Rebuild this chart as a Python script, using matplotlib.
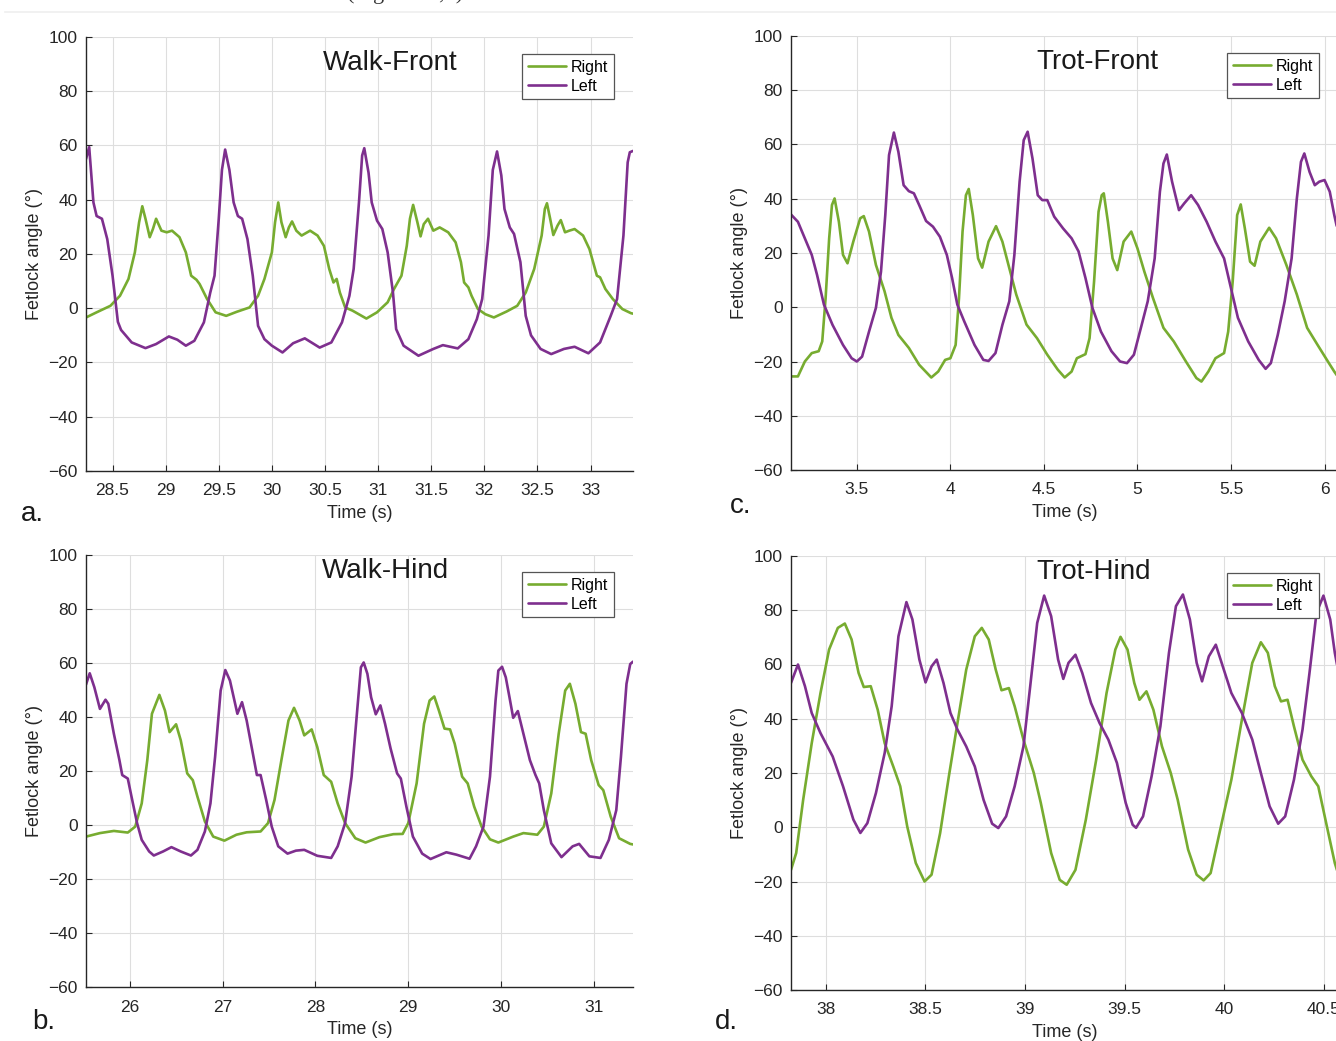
import matplotlib
matplotlib.use("Agg")
import matplotlib.pyplot as plt
from matplotlib.lines import Line2D
from matplotlib.ticker import FormatStrFormatter

plt.rcParams['font.family'] = ['Liberation Sans', 'DejaVu Sans']

GREEN = '#77AC30'
PURPLE = '#7E2F8E'
DARK = '#262626'

# a. Walk-Front  (time s, fetlock angle deg)
walk_front_right = [
    (28.25, -3.4), (28.35, -1.5), (28.48, 0.9), (28.57, 4.6), (28.65, 10.8), (28.71, 20.6), (28.75, 31.7),
    (28.78, 37.6), (28.81, 33), (28.85, 26.2), (28.88, 29.2), (28.91, 33), (28.96, 28.6), (29.01, 28),
    (29.06, 28.6), (29.13, 26.2), (29.19, 20.6), (29.24, 12), (29.29, 10.5), (29.32, 8.9), (29.39, 3.4),
    (29.47, -1.5), (29.57, -2.8), (29.67, -1.3), (29.79, 0.3), (29.87, 4.6), (29.93, 10.8), (30.00, 20.6),
    (30.03, 31.7), (30.06, 39), (30.09, 31.7), (30.13, 26.2), (30.16, 29.8), (30.19, 32), (30.23, 28.6),
    (30.28, 26.8), (30.36, 28.6), (30.43, 26.8), (30.49, 23), (30.54, 14.5), (30.58, 9.5), (30.61, 10.8),
    (30.64, 5.8), (30.69, 0.3), (30.76, -0.9), (30.89, -3.8), (30.99, -1.5), (31.09, 2.2), (31.15, 7.1),
    (31.22, 12), (31.27, 23), (31.30, 33), (31.33, 38.1), (31.37, 31.7), (31.40, 26.5), (31.43, 31),
    (31.47, 33), (31.52, 28.6), (31.58, 29.8), (31.66, 28), (31.73, 24.3), (31.78, 17), (31.81, 9.5),
    (31.85, 7.7), (31.88, 4.6), (31.94, -0.3), (32.01, -2.2), (32.09, -3.4), (32.21, -1.2), (32.31, 0.9),
    (32.39, 5.8), (32.47, 14.5), (32.54, 26.8), (32.57, 36.6), (32.59, 38.7), (32.62, 33), (32.65, 27),
    (32.69, 30.5), (32.72, 32.5), (32.76, 28), (32.80, 28.6), (32.85, 29.2), (32.93, 26.8), (32.99, 21.8),
    (33.06, 12), (33.09, 11.4), (33.14, 7.1), (33.21, 3.4), (33.30, -0.3), (33.38, -1.8), (33.40, -2),
]
walk_front_left = [
    (28.25, 55), (28.28, 59.4), (28.32, 39), (28.35, 34), (28.40, 33), (28.45, 25.5), (28.50, 12),
    (28.55, -5), (28.58, -8), (28.68, -12.6), (28.81, -14.7), (28.91, -13.2), (29.03, -10.4), (29.11, -11.6),
    (29.19, -13.8), (29.27, -12), (29.36, -5.2), (29.42, 5.8), (29.46, 12), (29.50, 33), (29.53, 51),
    (29.56, 58.5), (29.60, 51), (29.64, 39), (29.68, 34), (29.72, 33), (29.77, 25.5), (29.82, 12),
    (29.87, -6.5), (29.93, -11.4), (30.00, -13.8), (30.10, -16.3), (30.20, -12.9), (30.31, -11.1),
    (30.45, -14.5), (30.56, -12.6), (30.66, -5.2), (30.73, 4.6), (30.77, 14.5), (30.82, 39), (30.85, 56.3),
    (30.87, 59), (30.91, 50), (30.94, 39), (30.99, 32.3), (31.04, 29.2), (31.09, 20.6), (31.14, 5.8),
    (31.17, -7.7), (31.24, -13.8), (31.38, -17.5), (31.52, -15), (31.61, -13.6), (31.75, -14.8),
    (31.85, -11.4), (31.93, -4), (31.98, 3.4), (32.04, 26.8), (32.08, 51), (32.12, 57.8), (32.16, 49),
    (32.19, 36.6), (32.24, 29.8), (32.28, 27.4), (32.34, 17), (32.39, -2.8), (32.44, -10), (32.53, -15),
    (32.63, -16.9), (32.75, -15), (32.85, -14.2), (32.98, -16.6), (33.09, -12.6), (33.19, -2.8),
    (33.25, 3.4), (33.31, 26.8), (33.35, 53.8), (33.37, 57.5), (33.40, 58),
]

# b. Walk-Hind
walk_hind_right = [
    (25.53, -4.3), (25.68, -3), (25.83, -2.2), (25.98, -2.8), (26.06, -0.6), (26.13, 8), (26.19, 24),
    (26.24, 41.2), (26.32, 48.2), (26.38, 42.4), (26.43, 34.4), (26.50, 37.3), (26.55, 31.4), (26.62, 19.1),
    (26.68, 16.6), (26.73, 10.5), (26.81, 1.3), (26.90, -4.3), (27.02, -5.8), (27.15, -3.6), (27.26, -2.7),
    (27.41, -2.4), (27.49, 0.7), (27.56, 9.3), (27.64, 25.2), (27.71, 38.7), (27.77, 43.4), (27.83, 38.7),
    (27.88, 33.2), (27.96, 35.4), (28.02, 28.9), (28.09, 18.5), (28.17, 16), (28.24, 8), (28.32, 0.7),
    (28.43, -4.9), (28.54, -6.5), (28.69, -4.5), (28.84, -3.4), (28.94, -3.3), (29.00, 0.7), (29.09, 15.4),
    (29.17, 37.5), (29.23, 46.1), (29.28, 47.6), (29.33, 42.4), (29.39, 35.7), (29.45, 35.4), (29.50, 30.1),
    (29.58, 17.9), (29.64, 15.4), (29.71, 6.8), (29.79, -0.6), (29.88, -5.3), (29.97, -6.5), (30.13, -4.3),
    (30.24, -3), (30.39, -3.6), (30.46, -0.6), (30.54, 11.7), (30.62, 33.8), (30.69, 49.8), (30.74, 52.3),
    (30.80, 44.9), (30.86, 34.4), (30.91, 33.8), (30.97, 24), (31.05, 14.8), (31.10, 12.9), (31.18, 3.1),
    (31.27, -4.9), (31.39, -7), (31.42, -7.2),
]
walk_hind_left = [
    (25.53, 52), (25.57, 56.2), (25.62, 51), (25.68, 43), (25.74, 46.4), (25.77, 44.9), (25.83, 33.8),
    (25.89, 24), (25.92, 18.5), (25.98, 17.2), (26.02, 10.5), (26.08, 0.7), (26.13, -5.5), (26.21, -9.8),
    (26.26, -11.3), (26.36, -9.8), (26.45, -8.2), (26.55, -9.8), (26.66, -11.3), (26.73, -9.2), (26.81, -2.4),
    (26.87, 8), (26.92, 25.2), (26.98, 49.8), (27.03, 57.4), (27.08, 53.5), (27.16, 41.2), (27.21, 45.5),
    (27.26, 38.7), (27.32, 27.7), (27.37, 18.5), (27.41, 18.5), (27.47, 9.3), (27.53, -0.6), (27.60, -7.9),
    (27.70, -10.6), (27.79, -9.5), (27.88, -9.2), (28.02, -11.4), (28.17, -12.2), (28.24, -7.9), (28.32, 0.7),
    (28.39, 17.9), (28.45, 42.4), (28.49, 58.4), (28.52, 60.2), (28.56, 56), (28.60, 47.3), (28.65, 41),
    (28.70, 44.3), (28.75, 37.5), (28.81, 28.3), (28.88, 19.1), (28.92, 17.2), (28.98, 6.8), (29.05, -4.3),
    (29.15, -10.6), (29.24, -12.6), (29.41, -10.1), (29.52, -11), (29.66, -12.5), (29.73, -7.9),
    (29.81, -0.6), (29.88, 17.9), (29.94, 46.1), (29.97, 57.2), (30.01, 58.6), (30.05, 54.7), (30.09, 47.3),
    (30.13, 39.7), (30.18, 42.2), (30.24, 33.8), (30.31, 24), (30.37, 18.5), (30.41, 15.4), (30.46, 5.5),
    (30.54, -6.8), (30.65, -11.9), (30.77, -7.9), (30.84, -7), (30.95, -11.6), (31.07, -12.2), (31.16, -5.5),
    (31.24, 5.5), (31.29, 25.2), (31.35, 52.3), (31.39, 59.6), (31.42, 60.5),
]

# c. Trot-Front
trot_front_right = [
    (3.148, -25.5), (3.185, -25.5), (3.222, -20), (3.259, -16.9), (3.296, -16.2), (3.315, -12.6),
    (3.333, 3.4), (3.352, 25.4), (3.367, 37.7), (3.381, 40.1), (3.404, 31.5), (3.426, 19.3), (3.450, 16.2),
    (3.481, 24.2), (3.518, 32.8), (3.537, 33.6), (3.565, 27.9), (3.602, 15.6), (3.648, 5.9), (3.685, -3.9),
    (3.722, -10.2), (3.778, -15), (3.833, -21.2), (3.898, -25.9), (3.935, -23.7), (3.972, -19.4),
    (4.000, -18.8), (4.028, -13.9), (4.046, 3.4), (4.065, 27.9), (4.083, 41.3), (4.098, 43.6), (4.120, 34),
    (4.148, 18), (4.170, 14.6), (4.204, 24.2), (4.244, 29.9), (4.278, 24.2), (4.315, 14.4), (4.352, 4.7),
    (4.407, -6.4), (4.463, -11.4), (4.518, -17.5), (4.574, -23), (4.611, -25.9), (4.648, -23.7),
    (4.676, -18.8), (4.722, -17.3), (4.744, -11.4), (4.768, 9.4), (4.792, 35.2), (4.809, 41.3), (4.820, 42),
    (4.842, 31.5), (4.867, 18), (4.892, 13.7), (4.926, 24.2), (4.967, 27.9), (5.000, 21.7), (5.037, 13.1),
    (5.083, 3.4), (5.139, -7.6), (5.194, -12.6), (5.259, -20), (5.315, -26.1), (5.342, -27.4),
    (5.379, -23.7), (5.417, -18.8), (5.463, -16.9), (5.485, -9), (5.509, 9.4), (5.533, 34), (5.552, 37.9),
    (5.574, 29.1), (5.602, 16.8), (5.626, 15.3), (5.657, 24.2), (5.704, 29.3), (5.741, 25.4), (5.796, 15.6),
    (5.852, 4.7), (5.907, -7.6), (5.963, -13.9), (6.018, -20), (6.052, -23.7), (6.065, -25),
]
trot_front_left = [
    (3.148, 34.2), (3.185, 31.5), (3.222, 25.4), (3.259, 19.3), (3.287, 12), (3.324, 1), (3.370, -6.5),
    (3.426, -13.9), (3.472, -18.8), (3.500, -20), (3.528, -18.2), (3.565, -9), (3.602, -0.2), (3.629, 13.1),
    (3.652, 34), (3.672, 56.1), (3.698, 64.4), (3.722, 57.3), (3.750, 45), (3.778, 42.8), (3.805, 42),
    (3.833, 37.7), (3.870, 31.8), (3.907, 29.7), (3.944, 26), (3.981, 19.3), (4.009, 10.8), (4.037, 1),
    (4.074, -5.2), (4.129, -13.9), (4.176, -19.4), (4.204, -19.8), (4.241, -16.9), (4.278, -6.5),
    (4.315, 2.2), (4.342, 19.3), (4.370, 46.3), (4.392, 61.6), (4.413, 64.7), (4.439, 54.8), (4.467, 41.3),
    (4.491, 39.5), (4.518, 39.5), (4.555, 33.4), (4.602, 29.1), (4.648, 25.4), (4.685, 20.6), (4.722, 10.8),
    (4.759, -0.2), (4.805, -9), (4.861, -16.2), (4.907, -20), (4.944, -20.6), (4.981, -17.5), (5.018, -7.7),
    (5.055, 2.2), (5.092, 18), (5.120, 42.6), (5.139, 53), (5.157, 56.3), (5.185, 46.3), (5.222, 35.8),
    (5.250, 38.3), (5.287, 41.3), (5.324, 37.7), (5.370, 31.5), (5.417, 24.2), (5.463, 18), (5.500, 7),
    (5.537, -3.9), (5.592, -12.6), (5.648, -19.4), (5.685, -22.7), (5.713, -20.6), (5.750, -10.2),
    (5.787, 2.2), (5.824, 18), (5.852, 40.1), (5.874, 53.6), (5.892, 56.7), (5.920, 49.9), (5.948, 45),
    (5.972, 46.3), (6.000, 46.9), (6.028, 42.6), (6.052, 34), (6.065, 30),
]

# d. Trot-Hind
trot_hind_right = [
    (37.826, -15.7), (37.852, -9.5), (37.887, 10.1), (37.930, 31), (37.974, 49.5), (38.017, 65.5),
    (38.061, 73.5), (38.096, 75.1), (38.130, 69.2), (38.165, 56.9), (38.191, 51.7), (38.226, 52),
    (38.261, 43.3), (38.296, 31), (38.339, 22.4), (38.374, 15.1), (38.409, 0.3), (38.452, -13.2),
    (38.496, -20), (38.531, -17.5), (38.574, -2.2), (38.618, 18.8), (38.661, 38.4), (38.705, 58.1),
    (38.748, 70.4), (38.783, 73.5), (38.818, 69.2), (38.853, 58.1), (38.882, 50.5), (38.919, 51.3),
    (38.948, 44.6), (38.992, 32.3), (39.044, 20), (39.079, 9), (39.131, -9.5), (39.174, -19.4),
    (39.209, -21.2), (39.253, -15.7), (39.305, 2.8), (39.357, 24.9), (39.409, 49.5), (39.453, 65.5),
    (39.479, 70.2), (39.514, 65.5), (39.548, 53.2), (39.574, 47), (39.609, 50.1), (39.644, 43.3),
    (39.687, 29.8), (39.731, 20), (39.766, 10.1), (39.818, -8.2), (39.861, -17.5), (39.896, -19.6),
    (39.931, -16.9), (39.983, 0.4), (40.035, 17.5), (40.088, 39.7), (40.140, 60.6), (40.183, 68.2),
    (40.218, 64.3), (40.253, 52), (40.284, 46.4), (40.317, 47), (40.349, 37.2), (40.392, 24.9),
    (40.436, 18.8), (40.471, 15.1), (40.514, 0.4), (40.554, -13.2), (40.570, -17),
]
trot_hind_left = [
    (37.826, 53.2), (37.861, 60), (37.896, 52), (37.930, 42.1), (37.974, 34.7), (38.035, 26.1),
    (38.087, 15.1), (38.139, 2.8), (38.174, -2.1), (38.209, 1.5), (38.252, 12.6), (38.296, 27.4),
    (38.331, 44.6), (38.365, 70.4), (38.405, 83), (38.435, 76.6), (38.470, 61.8), (38.501, 53.4),
    (38.531, 59.3), (38.557, 61.8), (38.591, 53.2), (38.626, 42.1), (38.661, 36), (38.705, 29.8),
    (38.748, 22.4), (38.792, 10.1), (38.835, 1.3), (38.866, -0.3), (38.905, 4), (38.948, 15.1),
    (38.992, 29.8), (39.026, 52), (39.061, 75.3), (39.096, 85.4), (39.131, 77.8), (39.166, 61.8),
    (39.192, 54.7), (39.218, 60.6), (39.253, 63.6), (39.287, 56.9), (39.331, 45.8), (39.374, 38.4),
    (39.418, 32.3), (39.461, 23.7), (39.505, 9), (39.540, 0.9), (39.557, -0.2), (39.592, 4),
    (39.635, 18.8), (39.679, 37.2), (39.722, 64.3), (39.757, 81.5), (39.792, 85.8), (39.827, 76.6),
    (39.861, 60.6), (39.888, 53.8), (39.922, 63), (39.957, 67.3), (39.992, 59.3), (40.035, 49.5),
    (40.088, 42.1), (40.140, 32.3), (40.183, 20), (40.227, 7.7), (40.270, 1.3), (40.305, 4),
    (40.349, 17.5), (40.392, 36), (40.427, 56.9), (40.462, 79), (40.497, 85.4), (40.531, 76.6),
    (40.554, 64.3), (40.570, 58),
]

y_ticks = [-60, -40, -20, 0, 20, 40, 60, 80, 100]

W, H = 1336, 1041
fig = plt.figure(figsize=(W / 100, H / 100), dpi=100)


def px_axes(left, top, right, bottom):
    return fig.add_axes([left / W, 1 - bottom / H, (right - left) / W, (bottom - top) / H])


def panel(ax, right, left, xlim, xticks, title, title_x, title_y, letter, letter_xy):
    ax.plot(*zip(*right), color=GREEN, lw=1.9, label='Right',
            solid_joinstyle='round', solid_capstyle='round')
    ax.plot(*zip(*left), color=PURPLE, lw=1.9, label='Left',
            solid_joinstyle='round', solid_capstyle='round')
    ax.set_xlim(xlim)
    ax.set_ylim(-60, 100)
    ax.set_xticks(xticks)
    ax.set_yticks(y_ticks)
    ax.xaxis.set_major_formatter(FormatStrFormatter('%g'))
    ax.grid(True, color='#dedede', lw=0.8)
    ax.set_axisbelow(True)
    for s in ('top', 'right'):
        ax.spines[s].set_visible(False)
    for s in ('left', 'bottom'):
        ax.spines[s].set_color(DARK)
        ax.spines[s].set_linewidth(1.0)
    ax.tick_params(direction='in', length=4, width=0.8, color=DARK,
                   labelsize=12.5, labelcolor=DARK)
    ax.tick_params(axis='x', pad=9)
    ax.tick_params(axis='y', pad=6)
    ax.set_xlabel('Time (s)', fontsize=13, color=DARK, labelpad=5)
    ax.set_ylabel('Fetlock angle (°)', fontsize=13, color=DARK, labelpad=4)
    ax.text(title_x, title_y, title, transform=ax.transAxes, ha='center', va='center',
            fontsize=20, color='#1a1a1a')
    leg = ax.legend(loc='upper right', bbox_to_anchor=(1 - 19 / 547, 1 - 17 / 434),
                    borderaxespad=0, fontsize=11.5, handlelength=2.4, handletextpad=0.3,
                    labelspacing=0.25, borderpad=0.35, fancybox=False, framealpha=1)
    leg.get_frame().set_edgecolor('#555555')
    leg.get_frame().set_linewidth(0.9)
    fig.text(letter_xy[0] / W, 1 - letter_xy[1] / H, letter, fontsize=20,
             color='#1a1a1a', ha='left', va='baseline')


ax_a = px_axes(86, 37, 633, 471)
ax_b = px_axes(86, 555, 633, 987)
ax_c = px_axes(791, 36, 1338, 470)
ax_d = px_axes(791, 556, 1338, 990)

panel(ax_a, walk_front_right, walk_front_left, (28.25, 33.40),
      [28.5, 29, 29.5, 30, 30.5, 31, 31.5, 32, 32.5, 33],
      'Walk-Front', 0.557, 0.94, 'a.', (21, 521))
panel(ax_b, walk_hind_right, walk_hind_left, (25.53, 31.42),
      [26, 27, 28, 29, 30, 31],
      'Walk-Hind', 0.547, 0.962, 'b.', (32, 1029))
panel(ax_c, trot_front_right, trot_front_left, (3.148, 6.072),
      [3.5, 4, 4.5, 5, 5.5, 6],
      'Trot-Front', 0.56, 0.94, 'c.', (730, 513))
panel(ax_d, trot_hind_right, trot_hind_left, (37.826, 40.57),
      [38, 38.5, 39, 39.5, 40, 40.5],
      'Trot-Hind', 0.553, 0.964, 'd.', (715, 1029))

# cropped caption line at the very top of the page
fig.text(405 / W, 1 + 1 / H, '(Figure 4a,b)', fontsize=16, ha='center', va='baseline',
         family=['Liberation Serif', 'DejaVu Serif'], color='#333333')
fig.add_artist(Line2D([5 / W, 1], [1 - 12 / H, 1 - 12 / H], color='#efefef', lw=1.2))

fig.savefig('out.png', dpi=100)
